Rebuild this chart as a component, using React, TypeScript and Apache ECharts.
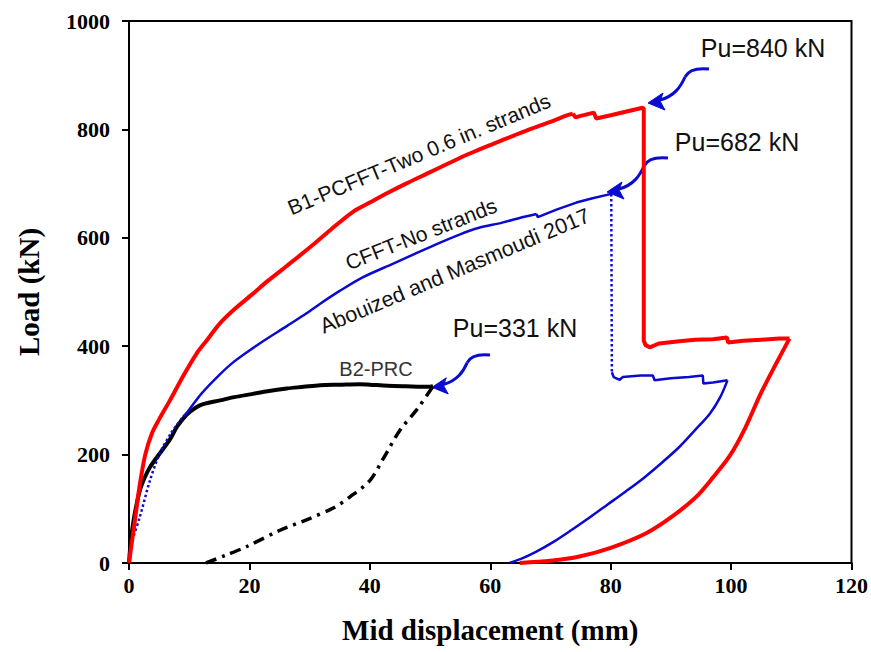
import { useEffect, useRef } from "react";
import * as echarts from "echarts";

// B1-PCFFT-Two 0.6 in. strands (red)
const b1Loading: [number, number][] = [
  [0, 0], [0.5, 40], [1, 80], [1.8, 145], [2.7, 200], [3.8, 239], [5, 265], [6.8, 300],
  [9, 345], [11.2, 386], [13, 412], [15.1, 442], [17.5, 468], [20.6, 497], [23, 520],
  [26.2, 548], [30, 582], [33.5, 615], [37.2, 648], [40, 665], [43, 683], [46, 700],
  [49.4, 718], [53, 737], [56.5, 755], [60.4, 773], [64, 789], [67, 802], [70, 814],
  [72.5, 825], [73.7, 829],
];
const b1Top: [number, number][] = [
  [73.7, 829], [74.2, 822], [75, 825], [77.2, 831], [77.6, 820], [80, 826], [83, 834],
  [85.3, 840], [85.5, 838], [85.5, 410], [85.8, 402], [86.5, 398], [88, 405], [91.4, 409],
  [94, 412], [97, 413], [99.3, 416], [99.5, 407], [102, 410], [105, 412], [108, 414],
  [109.7, 414],
];
const b1Unload: [number, number][] = [
  [109.7, 414], [107.2, 362], [104.9, 312], [102.3, 248], [99.8, 198], [97, 158],
  [94.2, 122], [90, 84], [85.9, 55], [80, 28], [74.8, 12], [70, 4], [64.9, 0],
];

// CFFT-No strands (blue): dotted start, solid loading, dotted drop, solid post-peak
const cfftStart: [number, number][] = [
  [0, 15], [0.5, 40], [1.8, 85], [3.5, 153], [5.1, 202], [7, 240], [9, 270],
];
const cfftLoading: [number, number][] = [
  [9, 270], [9.6, 277], [12, 312], [15.1, 348], [17.5, 372], [21.7, 405], [26.2, 437],
  [29, 457], [31.7, 478], [35, 502], [38.8, 527], [43.8, 552], [48, 573], [51, 588],
  [54.9, 606], [58, 618], [62, 628], [65, 637], [67.7, 644],
];
const cfftNearPeak: [number, number][] = [
  [67.7, 644], [67.9, 638], [71, 652], [74.3, 665], [77, 673], [80.1, 681],
];
const cfftDrop: [number, number][] = [[80.1, 681], [80.2, 352]];
const cfftPlateau: [number, number][] = [
  [80.2, 352], [80.5, 343], [81.5, 338], [82, 343], [85, 346], [87, 346], [87.3, 337],
  [90, 341], [93, 343], [95.3, 346], [95.4, 331], [97, 333], [99.4, 337],
];
const cfftUnload: [number, number][] = [
  [99.4, 337], [98.2, 306], [96.5, 276], [94, 245], [91.4, 214], [88.5, 185], [85.5, 157],
  [82.5, 132], [79.5, 108], [76.5, 84], [73.5, 61], [70.5, 39], [67.5, 20], [65.2, 8],
  [63.2, 0],
];

// B2-PRC (black)
const b2Curve: [number, number][] = [
  [0, 0], [0.3, 40], [0.7, 74], [1.2, 105], [1.8, 134], [2.5, 155], [3.5, 177], [5.1, 202],
  [6.8, 228], [8, 252], [9.6, 274], [11, 286], [12.3, 293], [15.1, 300], [17.5, 306],
  [20.6, 312], [23, 317], [26.2, 322], [29, 325], [31.7, 328], [35, 329], [38.3, 330],
  [40, 329], [43, 327], [46, 326], [50, 325], [50.5, 326],
];
const b2Unload: [number, number][] = [
  [12.8, 0], [16, 14], [19.5, 30], [25, 60], [30, 82], [34, 102], [36.7, 122], [40, 152],
  [42.2, 192], [45, 245], [47.8, 283], [50, 318], [50.5, 326],
];

const xTicks = { min: 0, max: 120, interval: 20 };
const yTicks = { min: 0, max: 1000, interval: 200 };

const RED = "#ff0000";
const BLUE = "#0a0ad0";
const SANS = "'Liberation Sans', Arial, sans-serif";
const SERIF = "'Liberation Serif', 'Times New Roman', serif";

function arrow(x0: number, y0: number, s: number) {
  const p = (dx: number, dy: number) => [x0 + dx * s, y0 + dy * s];
  const [x1, y1] = p(0, 0);
  const [c1x, c1y] = p(-10, -1);
  const [c2x, c2y] = p(-20, 0);
  const [mx, my] = p(-24, 8);
  const [c3x, c3y] = p(-28, 17);
  const [c4x, c4y] = p(-34, 27);
  const [ex, ey] = p(-49, 31);
  return [
    {
      type: "bezierCurve",
      shape: { x1, y1, cpx1: c1x, cpy1: c1y, cpx2: c2x, cpy2: c2y, x2: mx, y2: my },
      style: { stroke: BLUE, lineWidth: 3, fill: "none" },
    },
    {
      type: "bezierCurve",
      shape: { x1: mx, y1: my, cpx1: c3x, cpy1: c3y, cpx2: c4x, cpy2: c4y, x2: ex, y2: ey },
      style: { stroke: BLUE, lineWidth: 3, fill: "none" },
    },
    {
      type: "polygon",
      shape: { points: [p(-61, 34), p(-46, 24), p(-49, 32), p(-44, 41)] },
      style: { fill: BLUE, stroke: BLUE, lineWidth: 1 },
    },
  ];
}

function label(text: string, x: number, y: number, deg: number, size: number, color = "#111") {
  return {
    type: "text",
    x,
    y,
    rotation: (deg * Math.PI) / 180,
    style: {
      text,
      font: `${size}px ${SANS}`,
      fill: color,
      align: "center",
      verticalAlign: "middle",
    },
    z: 100,
  };
}

export default function App() {
  const ref = useRef<HTMLDivElement>(null);
  useEffect(() => {
    const chart = echarts.init(ref.current!, null, { renderer: "svg" });
    const line = (
      data: [number, number][],
      color: string,
      width: number,
      type: any = "solid",
      smooth: number | boolean = false
    ) => ({
      type: "line",
      data,
      showSymbol: false,
      symbol: "none",
      smooth,
      lineStyle: { color, width, type },
      silent: true,
    });
    chart.setOption({
      animation: false,
      backgroundColor: "#fff",
      grid: { left: 129, right: 19, top: 21, bottom: 89, show: true, borderColor: "#000", borderWidth: 2 },
      xAxis: {
        type: "value",
        ...xTicks,
        name: "Mid displacement (mm)",
        nameLocation: "middle",
        nameGap: 52,
        nameTextStyle: { fontFamily: SERIF, fontWeight: "bold", fontSize: 29, color: "#000" },
        axisLine: { lineStyle: { color: "#000", width: 2 } },
        axisTick: { show: true, inside: false, length: 7, lineStyle: { color: "#000", width: 2 } },
        axisLabel: { fontFamily: SERIF, fontWeight: "bold", fontSize: 22, color: "#000", margin: 11 },
        splitLine: { show: false },
      },
      yAxis: {
        type: "value",
        ...yTicks,
        name: "Load (kN)",
        nameLocation: "middle",
        nameGap: 86,
        nameRotate: 90,
        nameTextStyle: { fontFamily: SERIF, fontWeight: "bold", fontSize: 29, color: "#000" },
        axisLine: { show: true, lineStyle: { color: "#000", width: 2 } },
        axisTick: { show: true, inside: false, length: 7, lineStyle: { color: "#000", width: 2 } },
        axisLabel: {
          fontFamily: SERIF,
          fontWeight: "bold",
          fontSize: 22,
          color: "#000",
          margin: 19,
          formatter: (v: number) => String(v),
        },
        splitLine: { show: false },
      },
      series: [
        line(b2Unload, "#000", 3.5, [11, 6, 3, 6], 0.3),
        line(b2Curve, "#000", 4, "solid", 0.3),
        line(cfftStart, BLUE, 2.5, "dotted", 0.3),
        line(cfftLoading, BLUE, 2.5, "solid", 0.3),
        line(cfftNearPeak, BLUE, 2.5),
        line(cfftDrop, BLUE, 2.5, "dotted"),
        line(cfftPlateau, BLUE, 2.5),
        line(cfftUnload, BLUE, 2.5, "solid", 0.3),
        line(b1Loading, RED, 4, "solid", 0.3),
        line(b1Top, RED, 4),
        line(b1Unload, RED, 4, "solid", 0.3),
      ],
      graphic: [
        label("Pu=840 kN", 763, 48, 0, 25),
        label("Pu=682 kN", 737, 142, 0, 25),
        label("Pu=331 kN", 515, 328, 0, 25),
        label("B2-PRC", 376, 369, 0, 20, "#333"),
        label("B1-PCFFT-Two 0.6 in. strands", 419, 154, 22.7, 21),
        label("CFFT-No strands", 421, 234, 21.5, 21),
        label("Abouized and Masmoudi 2017", 455, 271, 22.8, 21.5),
        ...arrow(709, 69, 1),
        ...arrow(668, 158, 1),
        ...arrow(490, 355, 0.95),
      ],
    });
    return () => chart.dispose();
  }, []);
  return (
    <div
      ref={ref}
      style={{ position: "absolute", left: 0, top: 0, width: 871, height: 652, background: "#fff" }}
    />
  );
}
